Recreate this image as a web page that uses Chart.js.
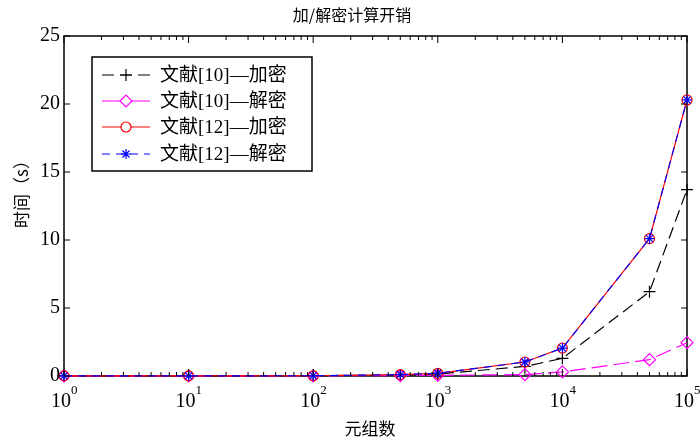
<!DOCTYPE html>
<html>
<head>
<meta charset="utf-8">
<script src="https://cdn.jsdelivr.net/npm/chart.js@4.4.0/dist/chart.umd.min.js"></script>
<style>
  html, body { margin: 0; padding: 0; background: #fff; }
  #wrap { width: 700px; height: 442px; }
</style>
</head>
<body>
<div id="wrap"><canvas id="mychart" width="700" height="442"></canvas></div>
<script>
// データ
const xValues = [1, 10, 100, 500, 1000, 5000, 10000, 50000, 100000];
const enc10 = [0.01, 0.01, 0.02, 0.07, 0.15, 0.7, 1.3, 6.2, 13.7];
const dec10 = [0.005, 0.005, 0.01, 0.03, 0.05, 0.1, 0.3, 1.2, 2.45];
const enc12 = [0.01, 0.01, 0.02, 0.1, 0.2, 1.03, 2.05, 10.1, 20.3];
const dec12 = [0.01, 0.01, 0.02, 0.1, 0.2, 1.03, 2.05, 10.1, 20.3];
const seriesNames = ['文献[10]—加密', '文献[10]—解密', '文献[12]—加密', '文献[12]—解密'];
const yTicks = [0, 5, 10, 15, 20, 25];
const xExponents = [0, 1, 2, 3, 4, 5];

const SERIF = '"Liberation Serif", "Noto Sans CJK SC", serif';
const CJK = '"Noto Sans CJK SC", "Liberation Serif", serif';

const pts = arr => arr.map((v, i) => ({ x: xValues[i], y: v }));

const styles = [
  { color: '#000000', dash: [12, 6], point: 'cross', r: 6 },
  { color: '#ff00ff', dash: [16, 6], point: 'rectRot', r: 6 },
  { color: '#ff0000', dash: [], point: 'circle', r: 5 },
  { color: '#0000ff', dash: [8, 6], point: 'star', r: 5 },
];
const legendDash = [[12, 6], [], [], [8, 6]];

const datasets = [enc10, dec10, enc12, dec12].map((d, i) => ({
  label: seriesNames[i],
  data: pts(d),
  borderColor: styles[i].color,
  backgroundColor: 'rgba(0,0,0,0)',
  pointBackgroundColor: 'rgba(0,0,0,0)',
  borderWidth: 1.2,
  borderDash: styles[i].dash,
  pointStyle: styles[i].point,
  pointRadius: styles[i].r,
  pointBorderColor: styles[i].color,
  pointBorderWidth: 1.2,
  tension: 0,
  clip: false,
  order: 4 - i,
}));

// 枠・目盛・凡例
const decor = {
  id: 'decor',
  beforeDatasetsDraw(chart) {
    const c = chart.ctx;
    const a = chart.chartArea;
    c.save();
    c.strokeStyle = '#000';
    c.lineWidth = 1.5;
    c.strokeRect(a.left, a.top, a.right - a.left, a.bottom - a.top);
    c.restore();
  },
  afterDraw(chart) {
    const c = chart.ctx;
    const a = chart.chartArea;
    const xs = chart.scales.x, ys = chart.scales.y;
    c.save();
    c.strokeStyle = '#000';
    c.lineWidth = 1;
    // y ticks
    c.fillStyle = '#000';
    c.font = '20px ' + SERIF;
    c.textAlign = 'right';
    c.textBaseline = 'middle';
    yTicks.forEach(v => {
      const y = ys.getPixelForValue(v);
      c.beginPath();
      c.moveTo(a.left, y); c.lineTo(a.left + 6, y);
      c.moveTo(a.right, y); c.lineTo(a.right - 6, y);
      c.stroke();
      c.fillText(String(v), a.left - 4, y);
    });
    // x ticks
    for (let e = 0; e < 5; e++) {
      for (let m = 2; m <= 9; m++) {
        const x = xs.getPixelForValue(m * Math.pow(10, e));
        c.beginPath();
        c.moveTo(x, a.bottom); c.lineTo(x, a.bottom - 4);
        c.moveTo(x, a.top); c.lineTo(x, a.top + 4);
        c.stroke();
      }
    }
    xExponents.forEach(e => {
      const x = xs.getPixelForValue(Math.pow(10, e));
      c.beginPath();
      c.moveTo(x, a.bottom); c.lineTo(x, a.bottom - 7);
      c.moveTo(x, a.top); c.lineTo(x, a.top + 7);
      c.stroke();
      c.font = '20px ' + SERIF;
      c.textAlign = 'center';
      c.textBaseline = 'alphabetic';
      c.fillText('10', x - 3, 407);
      c.font = '13px ' + SERIF;
      c.textAlign = 'left';
      c.fillText(String(e), x + 7, 394);
    });
    // titles
    c.textAlign = 'center';
    c.textBaseline = 'middle';
    c.font = '16px ' + CJK;
    c.fillText('加/解密计算开销', 352, 15);
    c.font = '17px ' + CJK;
    c.fillText('元组数', 370, 429);
    c.save();
    c.translate(22, 190);
    c.rotate(-Math.PI / 2);
    c.fillText('时间（s）', 0, 0);
    c.restore();
    // legend
    const lx = 92, ly = 57, lw = 220, lh = 114;
    c.fillStyle = '#fff';
    c.fillRect(lx, ly, lw, lh);
    c.lineWidth = 1.5;
    c.strokeStyle = '#000';
    c.strokeRect(lx, ly, lw, lh);
    const rows = [75, 101, 127, 154];
    seriesNames.forEach((name, i) => {
      const s = styles[i];
      const y = rows[i];
      c.strokeStyle = s.color;
      c.lineWidth = 1.2;
      c.setLineDash(legendDash[i]);
      c.beginPath();
      c.moveTo(102, y); c.lineTo(150, y);
      c.stroke();
      c.setLineDash([]);
      c.fillStyle = '#fff';
      Chart.helpers.drawPoint(c, { pointStyle: s.point, radius: s.r, borderWidth: 1.2 }, 126, y);
      c.fillStyle = '#000';
      c.textAlign = 'left';
      c.font = '19px ' + SERIF;
      c.fillText(name, 160, y + 1);
    });
    c.restore();
  }
};

const ctx = document.getElementById('mychart');
const myChart = new Chart(ctx, {
  type: 'line',
  data: { datasets },
  options: {
    responsive: false,
    animation: false,
    layout: { padding: { left: 0, right: 13, top: 36, bottom: 0 } },
    plugins: { legend: { display: false }, tooltip: { enabled: false } },
    scales: {
      x: {
        type: 'logarithmic', min: 1, max: 100000,
        grid: { display: false }, border: { display: false },
        ticks: { display: false },
        afterFit: s => { s.height = 66; },
      },
      y: {
        min: 0, max: 25,
        grid: { display: false }, border: { display: false },
        ticks: { display: false },
        afterFit: s => { s.width = 64; },
      },
    },
  },
  plugins: [decor],
});
</script>
</body>
</html>
